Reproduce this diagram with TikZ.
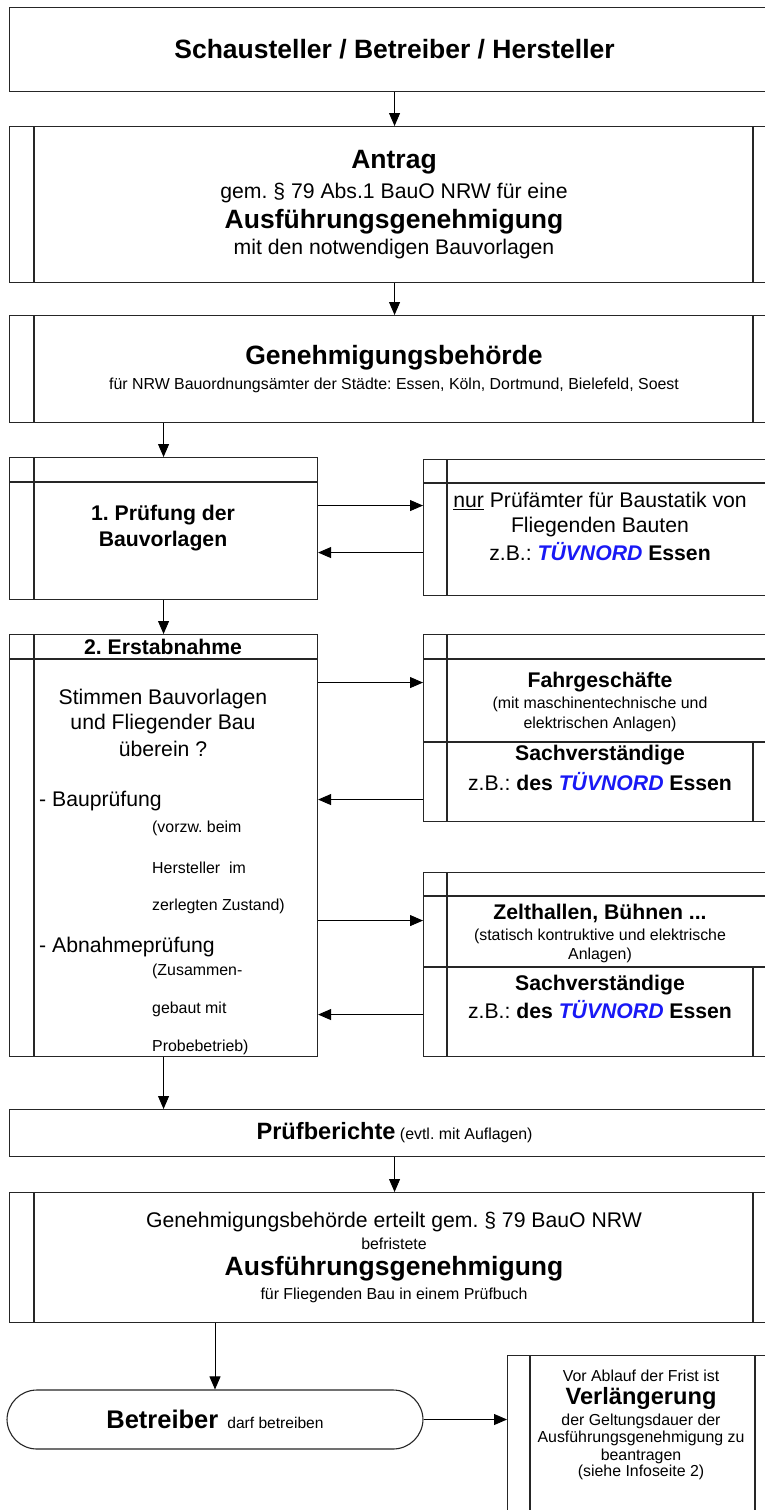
\documentclass[tikz,border=0pt]{standalone}
\usepackage{fontspec}
\setmainfont{Liberation Sans}
\usetikzlibrary{positioning, arrows.meta}

\definecolor{tuevblau}{RGB}{25,25,245}
\newcommand{\tuev}{\textcolor{tuevblau}{\textbf{\textit{TÜVNORD}}}}

\tikzset{
    kasten/.style={
        rectangle,
        draw=black!85,       % dunkle Kontur
        line width=1.1pt,
        inner sep=0pt,
        anchor=north west
    },
    kante/.style={draw=black!85, line width=1.1pt},
    pfeil/.style={-{Triangle[length=13pt, width=11pt]}, line width=0.9pt},
    zeile/.style={inner sep=0pt},
    fettgross/.style={zeile, font=\fontsize{26.5}{30}\selectfont\bfseries},
    fettmittel/.style={zeile, font=\fontsize{21.2}{25}\selectfont\bfseries},
    mittel/.style={zeile, font=\fontsize{21.2}{25}\selectfont},
    klein/.style={zeile, font=\fontsize{15.9}{19}\selectfont}
}

\begin{document}
\frenchspacing
\begin{tikzpicture}[x=1pt, y=-1pt]

    \path[use as bounding box, fill=white] (0,0) rectangle (765,1510);

    % Kaesten (rechts ueber den Rand hinaus)
    \node[kasten, minimum width=770pt, minimum height=84pt,
          font=\fontsize{26.5}{30}\selectfont\bfseries] (kopf) at (9,7)
          {Schausteller / Betreiber / Hersteller};
    \node[kasten, minimum width=770pt, minimum height=156pt] (antrag) at (9,126) {};
    \node[kasten, minimum width=770pt, minimum height=107pt] (behoerde) at (9,315) {};
    \node[kasten, minimum width=308pt, minimum height=142pt] (pruefung) at (9,457) {};
    \node[kasten, minimum width=360pt, minimum height=136pt] (statik) at (423,459) {};
    \node[kasten, minimum width=308pt, minimum height=422pt] (erst) at (9,634) {};
    \node[kasten, minimum width=360pt, minimum height=187pt] (fahr) at (423,634) {};
    \node[kasten, minimum width=360pt, minimum height=184pt] (zelt) at (423,872) {};
    \node[kasten, minimum width=770pt, minimum height=47pt,
          font=\fontsize{15.9}{19}\selectfont] (berichte) at (9,1109)
          {{\fontsize{23.6}{28}\selectfont\bfseries Prüfberichte} (evtl. mit Auflagen)};
    \node[kasten, minimum width=770pt, minimum height=130pt] (erteilt) at (9,1192) {};
    \node[rectangle, draw=black!85, line width=1.1pt, rounded corners=30pt,
          minimum width=416pt, minimum height=59pt, inner sep=0pt,
          font=\fontsize{15.6}{19}\selectfont] (betreiber) at (215,1419.5)
          {{\fontsize{25.5}{30}\selectfont\bfseries Betreiber}\hspace{9pt}darf betreiben};
    \node[kasten, minimum width=300pt, minimum height=180pt] (verl) at (507,1355) {};

    % Randleisten und Kopfzeilen
    \foreach \k in {antrag, behoerde, erteilt} {
        \draw[kante] ([xshift=25pt]\k.north west) -- ([xshift=25pt]\k.south west);
        \draw[kante] ([xshift=744pt]\k.north west) -- ([xshift=744pt]\k.south west);
    }
    \foreach \k in {pruefung, erst} {
        \draw[kante] ([xshift=25pt]\k.north west) -- ([xshift=25pt]\k.south west);
        \draw[kante] ([yshift=-25pt]\k.north west) -- ([yshift=-25pt]\k.north east);
    }
    \foreach \k/\h in {statik/24, fahr/25, zelt/24} {
        \draw[kante] ([xshift=24pt]\k.north west) -- ([xshift=24pt]\k.south west);
        \draw[kante] ([yshift=-\h pt]\k.north west) -- ([yshift=-\h pt]\k.north east);
    }
    \foreach \k/\t in {fahr/108, zelt/95} {
        \draw[kante] ([yshift=-\t pt]\k.north west) -- ([yshift=-\t pt]\k.north east);
        \draw[kante] ([xshift=330pt, yshift=-\t pt]\k.north west) -- ([xshift=330pt]\k.south west);
    }
    \draw[kante] ([xshift=23pt]verl.north west) -- ([xshift=23pt]verl.south west);
    \draw[kante] ([xshift=248pt]verl.north west) -- ([xshift=248pt]verl.south west);

    % Texte
    \node[fettgross] (antragA) at (394,162) {Antrag};
    \node[mittel]    (antragB) at (394,193) {gem. § 79 Abs.1 BauO NRW für eine};
    \node[fettgross] (antragC) at (394,222) {Ausführungsgenehmigung};
    \node[mittel]    (antragD) at (394,249) {mit den notwendigen Bauvorlagen};

    \node[fettgross] (behoerdeA) at (394,358) {Genehmigungsbehörde};
    \node[klein]     (behoerdeB) at (394,385) {für NRW Bauordnungsämter der Städte: Essen, Köln, Dortmund, Bielefeld, Soest};

    \node[fettmittel] (pruefungA) at (163,515) {1. Prüfung der};
    \node[fettmittel] (pruefungB) at (163,541) {Bauvorlagen};

    \node[mittel] (statikA) at (600,501) {\underline{nur} Prüfämter für Baustatik von};
    \node[mittel] (statikB) at (600,527) {Fliegenden Bauten};
    \node[mittel] (statikC) at (600,552) {z.B.: \tuev\ \textbf{Essen}};

    \node[fettmittel] (erstKopf) at (163,647) {2. Erstabnahme};
    \node[mittel] (erstA) at (163,699) {Stimmen Bauvorlagen};
    \node[mittel] (erstB) at (163,724) {und Fliegender Bau};
    \node[mittel] (erstC) at (163,749) {überein ?};
    \node[mittel, anchor=west] (erstD) at (39,801) {- Bauprüfung};
    \node[klein, anchor=west]  (erstE) at (152,828) {(vorzw. beim};
    \node[klein, anchor=west]  (erstF) at (152,868) {Hersteller~~im};
    \node[klein, anchor=west]  (erstG) at (152,906) {zerlegten Zustand)};
    \node[mittel, anchor=west] (erstH) at (39,947) {- Abnahmeprüfung};
    \node[klein, anchor=west]  (erstI) at (152,971) {(Zusammen-};
    \node[klein, anchor=west]  (erstJ) at (152,1009) {gebaut mit};
    \node[klein, anchor=west]  (erstK) at (152,1047) {Probebetrieb)};

    \node[fettmittel] (fahrA) at (600,682) {Fahrgeschäfte};
    \node[klein]      (fahrB) at (600,704) {(mit maschinentechnische und};
    \node[klein]      (fahrC) at (600,724) {elektrischen Anlagen)};
    \node[fettmittel] (fahrD) at (600,755) {Sachverständige};
    \node[mittel]     (fahrE) at (600,782) {z.B.: \textbf{des} \tuev\ \textbf{Essen}};

    \node[fettmittel] (zeltA) at (600,913) {Zelthallen, Bühnen ...};
    \node[klein]      (zeltB) at (600,936) {(statisch kontruktive und elektrische};
    \node[klein]      (zeltC) at (600,955) {Anlagen)};
    \node[fettmittel] (zeltD) at (600,985) {Sachverständige};
    \node[mittel]     (zeltE) at (600,1010) {z.B.: \textbf{des} \tuev\ \textbf{Essen}};

    \node[mittel]    (erteiltA) at (394,1222) {Genehmigungsbehörde erteilt gem. § 79 BauO NRW};
    \node[klein]     (erteiltB) at (394,1244) {befristete};
    \node[fettgross] (erteiltC) at (394,1269) {Ausführungsgenehmigung};
    \node[klein]     (erteiltD) at (394,1295) {für Fliegenden Bau in einem Prüfbuch};

    \node[klein] (verlA) at (641,1376) {Vor Ablauf der Frist ist};
    \node[zeile, font=\fontsize{23.6}{28}\selectfont\bfseries] (verlB) at (641,1398) {Verlängerung};
    \node[klein] (verlC) at (641,1421) {der Geltungsdauer der};
    \node[klein] (verlD) at (641,1438) {Ausführungsgenehmigung zu};
    \node[klein] (verlE) at (641,1456) {beantragen};
    \node[klein] (verlF) at (641,1472) {(siehe Infoseite 2)};

    % Pfeile
    \draw[pfeil] (kopf.south) -- (antrag.north);
    \draw[pfeil] (antrag.south) -- (behoerde.north);
    \draw[pfeil] (behoerde.south -| pruefung.north) -- (pruefung.north);

    \coordinate (p1) at ([yshift=23pt]pruefung.east);
    \coordinate (p2) at ([yshift=-24pt]pruefung.east);
    \draw[pfeil] (p1) -- (p1 -| statik.west);
    \draw[pfeil] (p2 -| statik.west) -- (p2);

    \draw[pfeil] (pruefung.south) -- (erst.north);

    \coordinate (e1) at ([yshift=163pt]erst.east);
    \coordinate (e2) at ([yshift=46pt]erst.east);
    \coordinate (e3) at ([yshift=-75pt]erst.east);
    \coordinate (e4) at ([yshift=-169pt]erst.east);
    \draw[pfeil] (e1) -- (e1 -| fahr.west);
    \draw[pfeil] (e2 -| fahr.west) -- (e2);
    \draw[pfeil] (e3) -- (e3 -| zelt.west);
    \draw[pfeil] (e4 -| zelt.west) -- (e4);

    \draw[pfeil] (erst.south) -- (erst.south |- berichte.north);
    \draw[pfeil] (berichte.south) -- (erteilt.north);
    \draw[pfeil] (erteilt.south -| betreiber.north) -- (betreiber.north);
    \draw[pfeil] (betreiber.east) -- (betreiber.east -| verl.west);

\end{tikzpicture}
\end{document}
